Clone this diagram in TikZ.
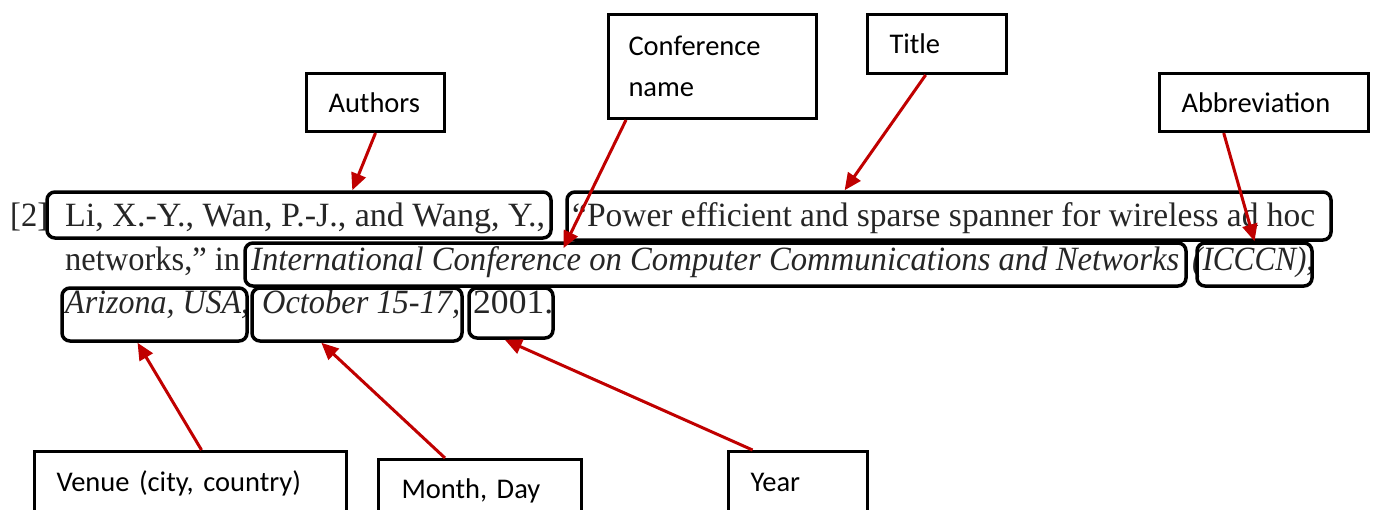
\documentclass[tikz,border=0pt]{standalone}
\usepackage{fontspec}
\setmainfont{Liberation Serif}
\newfontfamily\lab{Carlito}
\usetikzlibrary{arrows.meta,calc}
\definecolor{arrred}{HTML}{C00000}
\definecolor{ink}{HTML}{262626}
\newcommand{\fw}[2]{\resizebox{#1pt}{\height}{#2}}
\begin{document}
\begin{tikzpicture}[x=1pt,y=-1pt,
  lbl/.style={draw=black,line width=3pt,rectangle,inner ysep=0pt,align=left,
    font=\lab\fontsize{28.5}{41}\selectfont,anchor=north west},
  cbox/.style={draw=black,line width=3.5pt,rounded corners=8pt,rectangle,inner sep=0pt},
  ctext/.style={anchor=base west,inner sep=0pt,text=ink,font=\fontsize{34}{44}\selectfont},
  arr/.style={draw=arrred,line width=3pt,-{Triangle[length=17pt,width=15pt]}}]
\useasboundingbox (0,0) rectangle (1373,509);
\clip (0,0) rectangle (1373,509);
\fill[white] (0,0) rectangle (1373,509);

% citation text
\node[ctext] (t0) at (10,226) {\fw{38}{[2]}};
\node[ctext] (t1) at (65,226) {\fw{480}{Li, X.-Y., Wan, P.-J., and Wang, Y.,}};
\node[ctext] (t2) at (572,226) {\fw{743}{“Power efficient and sparse spanner for wireless ad hoc}};
\node[ctext] (t3) at (65,270) {\fw{175}{networks,” in}};
\node[ctext] (t4) at (251,270) {\fw{928}{\itshape International Conference on Computer Communications and Networks}};
\node[ctext] (t5) at (1192,270) {\fw{122}{\itshape (ICCCN),}};
\node[ctext] (t6) at (65,313) {\fw{184}{\itshape Arizona, USA,}};
\node[ctext] (t7) at (262,313) {\fw{198}{\itshape October 15-17,}};
\node[ctext] (t8) at (473,313) {\fw{80}{2001.}};

% citation boxes
\node[cbox,minimum width=504pt,minimum height=46pt] (cAuthors) at (299,215) {};
\node[cbox,minimum width=764pt,minimum height=48pt] (cTitle) at (949,216) {};
\node[cbox,minimum width=941pt,minimum height=43pt] (cConf) at (715.5,264.5) {};
\node[cbox,minimum width=115pt,minimum height=43pt] (cAbbr) at (1254.5,264.5) {};
\node[cbox,minimum width=185pt,minimum height=53pt] (cVenue) at (154.5,314.5) {};
\node[cbox,minimum width=210pt,minimum height=53pt] (cDate) at (357,314.5) {};
\node[cbox,minimum width=84pt,minimum height=50pt] (cYear) at (511,313) {};

% label boxes
\node[lbl,text width=94pt,inner xsep=22pt,minimum height=58pt] (lAuthors) at (305,72) {Authors};
\node[lbl,text width=168pt,inner xsep=20pt,minimum height=104pt] (lConf) at (607,13) {Conference\\name};
\node[lbl,text width=95pt,inner xsep=22pt,minimum height=59pt] (lTitle) at (866,13) {Title};
\node[lbl,text width=165pt,inner xsep=22pt,minimum height=58pt] (lAbbr) at (1158,72) {Abbreviation};
\node[lbl,text width=268pt,inner xsep=22pt,minimum height=64pt] (lVenue) at (33,450) {Venue (city, country)};
\node[lbl,text width=157pt,inner xsep=23pt,minimum height=62pt] (lDate) at (377,458) {Month, Day};
\node[lbl,text width=95pt,inner xsep=22pt,minimum height=62pt] (lYear) at (727,450) {Year};

% arrow ends
\coordinate (sConf) at ($(lConf.south west)!0.09!(lConf.south east)$);
\coordinate (sTitle) at ($(lTitle.south west)!0.42!(lTitle.south east)$);
\coordinate (sAbbr) at ($(lAbbr.south west)!0.31!(lAbbr.south east)$);
\coordinate (sVenue) at ($(lVenue.north west)!0.535!(lVenue.north east)$);
\coordinate (sDate) at ($(lDate.north west)!0.33!(lDate.north east)$);
\coordinate (sYear) at ($(lYear.north west)!0.18!(lYear.north east)$);
\coordinate (eAuthors) at ($(cAuthors.north west)!0.605!(cAuthors.north east)$);
\coordinate (eTitle) at ($(cTitle.north west)!0.364!(cTitle.north east)$);
\coordinate (eConf) at ($(cConf.north west)!0.339!(cConf.north east)+(0,7)$);
\coordinate (eVenue) at ($(cVenue.south west)!0.41!(cVenue.south east)$);
\coordinate (eDate) at ($(cDate.south west)!0.333!(cDate.south east)$);
\coordinate (eYear) at ($(cYear.south west)!0.43!(cYear.south east)$);

\draw[arr] (lAuthors.south) -- (eAuthors);
\draw[arr] (sConf) -- (eConf);
\draw[arr] (sTitle) -- (eTitle);
\draw[arr] (sAbbr) -- (cAbbr.north);
\draw[arr] (sVenue) -- (eVenue);
\draw[arr] (sDate) -- (eDate);
\draw[arr] (sYear) -- (eYear);
\end{tikzpicture}
\end{document}
